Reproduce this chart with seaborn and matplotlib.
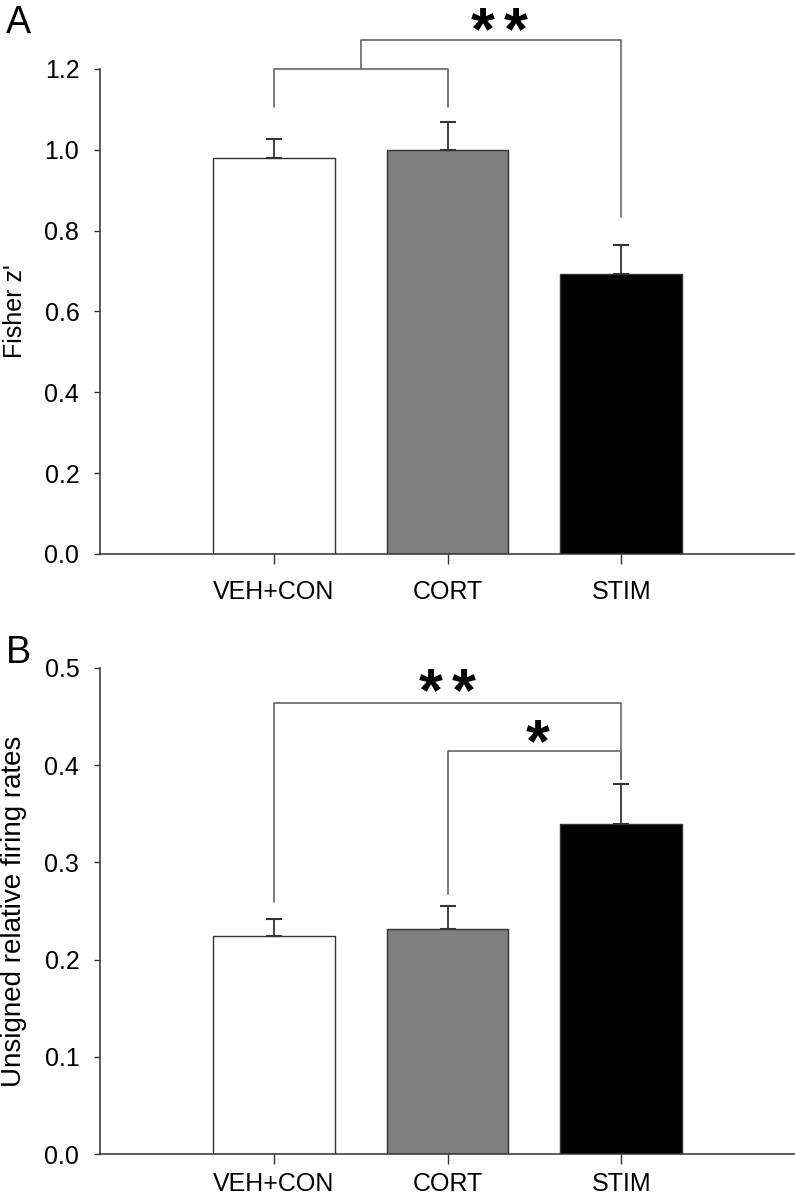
import matplotlib
matplotlib.use('Agg')
import numpy as np
import matplotlib.pyplot as plt
from matplotlib.ticker import FormatStrFormatter
import seaborn as sns

# data
groups = ['VEH+CON', 'CORT', 'STIM']
bar_colors = ['#ffffff', '#808080', '#000000']

fisher_z = [0.98, 1.0, 0.692]
fisher_z_sem = [0.047, 0.069, 0.073]

firing = [0.224, 0.231, 0.339]
firing_sem = [0.018, 0.024, 0.042]

# significance brackets: (x_left, x_right, y_top, y_left_end, y_right_end, n_stars, star_x, star_y)
brackets_a = [(0, 1, 1.2, 1.106, 1.106, 0, None, None),
              (0.5, 2, 1.272, 1.2, 0.834, 2, 1.30, 1.287)]
brackets_b = [(0, 2, 0.464, 0.259, 0.386, 2, 1.0, 0.472),
              (1, 2, 0.415, 0.268, 0.386, 1, 1.516, 0.420)]

sns.set_style('ticks')
plt.rcParams['font.family'] = ['Liberation Sans', 'DejaVu Sans']
plt.rcParams['text.color'] = 'black'
plt.rcParams['axes.labelcolor'] = 'black'
plt.rcParams['xtick.labelcolor'] = 'black'
plt.rcParams['ytick.labelcolor'] = 'black'

fig = plt.figure(figsize=(7.95, 11.99), dpi=100)
ax_a = fig.add_axes([0.126, 0.538, 0.874, 0.4045])
ax_b = fig.add_axes([0.126, 0.0375, 0.874, 0.4054])


def draw_panel(ax, values, sems, ymax, step, ylabel, brackets, xpad, ylabel_size):
    sns.barplot(x=groups, y=values, hue=groups, palette=bar_colors, legend=False,
                width=0.7, edgecolor='#333333', linewidth=1.0, ax=ax, zorder=2)
    ax.errorbar(range(len(groups)), values, yerr=[np.zeros(len(sems)), sems],
                fmt='none', ecolor='#333333', elinewidth=1.3, capsize=5.5,
                capthick=1.5, zorder=3)
    ax.set_xlim(-1, 3)
    ax.set_ylim(0, ymax)
    ax.set_yticks(np.arange(0, ymax + step / 2, step))
    ax.yaxis.set_major_formatter(FormatStrFormatter('%.1f'))
    ax.tick_params(axis='y', length=4, width=1, color='#333333', labelsize=18, pad=11)
    ax.tick_params(axis='x', length=7, width=1, color='#333333', labelsize=18, pad=xpad)
    for side in ['top', 'right']:
        ax.spines[side].set_visible(False)
    for side in ['left', 'bottom']:
        ax.spines[side].set_color('#333333')
        ax.spines[side].set_linewidth(1.1)
    ax.set_xlabel('')
    ax.set_ylabel(ylabel, fontsize=ylabel_size)
    ax.yaxis.set_label_coords(-0.106, 0.5)

    for x1, x2, yt, yl, yr, n_stars, sx, sy in brackets:
        ax.plot([x1, x1, x2, x2], [yl, yt, yt, yr], color='#666666', lw=1.2,
                clip_on=False, zorder=4)
        offsets = {1: [0.0], 2: [-0.095, 0.095]}.get(n_stars, [])
        for off in offsets:
            ax.text(sx + off, sy, '*', ha='center', va='center', fontsize=44,
                    fontweight='bold', color='black', clip_on=False)


draw_panel(ax_a, fisher_z, fisher_z_sem, 1.2, 0.2, "Fisher z'", brackets_a, 12, 18)
draw_panel(ax_b, firing, firing_sem, 0.5, 0.1, 'Unsigned relative firing rates',
           brackets_b, 6, 20)

fig.text(0.008, 0.996, 'A', fontsize=27, va='top', ha='left')
fig.text(0.008, 0.47, 'B', fontsize=27, va='top', ha='left')

fig.savefig('out.png', dpi=100)
